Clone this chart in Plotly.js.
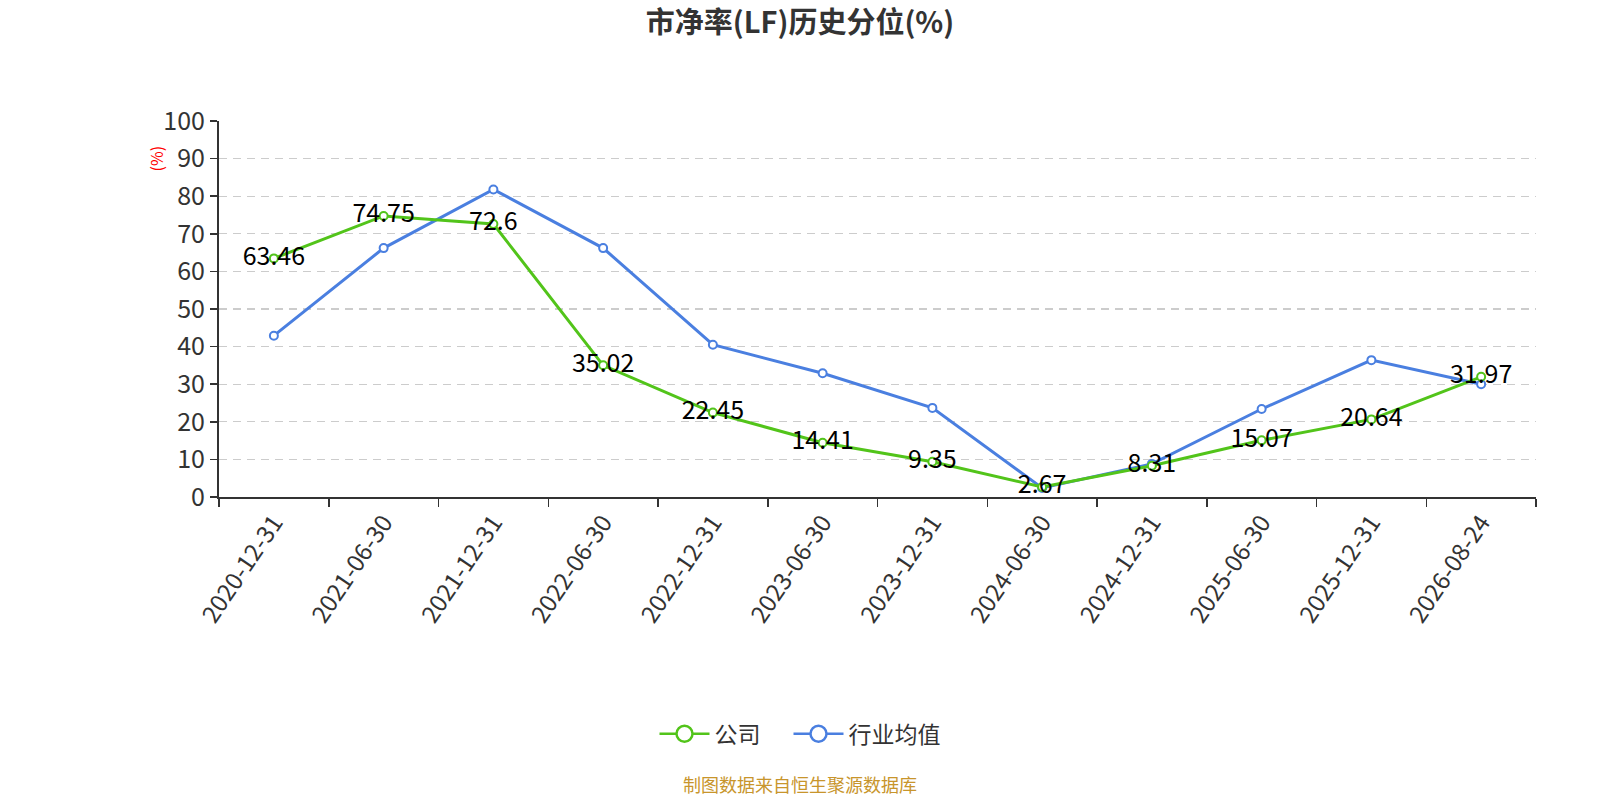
<!DOCTYPE html>
<html>
<head>
<meta charset="utf-8">
<script src="https://cdn.plot.ly/plotly-3.0.1.min.js"></script>
<style>
  html, body { margin: 0; padding: 0; background: #fff; }
  #plotElement { width: 1600px; height: 800px; }
</style>
</head>
<body>
<div id="plotElement"></div>
<script>
const categories = ["2020-12-31", "2021-06-30", "2021-12-31", "2022-06-30", "2022-12-31", "2023-06-30",
    "2023-12-31", "2024-06-30", "2024-12-31", "2025-06-30", "2025-12-31", "2026-08-24"];
const companyValues = [63.46, 74.75, 72.6, 35.02, 22.45, 14.41, 9.35, 2.67, 8.31, 15.07, 20.64, 31.97];
const industryValues = [42.9, 66.2, 81.8, 66.2, 40.5, 32.9, 23.7, 2.4, 8.8, 23.4, 36.4, 30.0];
const yTicks = [0, 10, 20, 30, 40, 50, 60, 70, 80, 90, 100];

const FONT = "'Noto Sans CJK SC', 'Noto Sans', sans-serif";
const GREEN = "#52c41a";
const BLUE = "#4a7fe0";

// page centre expressed in plot-area (paper) units
const centreX = (800 - 219) / 1317;

function lineTrace(name, values, color, withText) {
    const t = {
        type: "scatter",
        mode: withText ? "lines+markers+text" : "lines+markers",
        name: name,
        x: categories,
        y: values,
        showlegend: false,
        line: { color: color, width: 3 },
        marker: { color: "#fff", size: 8, line: { color: color, width: 2 } },
        cliponaxis: false,
        hoverinfo: "x+y"
    };
    if (withText) {
        t.text = values.map(v => String(v));
        t.textposition = "middle center";
        t.textfont = { family: FONT, size: 25, color: "#000" };
    }
    return t;
}

// legend-only entries with the big hollow circle icon
function legendTrace(name, color) {
    return {
        type: "scatter",
        mode: "lines+markers",
        name: name,
        x: [categories[0]],
        y: [null],
        showlegend: true,
        line: { color: color, width: 2.5 },
        marker: { color: "#fff", size: 16, line: { color: color, width: 2.5 } }
    };
}

// industry drawn first so company labels sit on top
const data = [
    lineTrace("行业均值", industryValues, BLUE, false),
    lineTrace("公司", companyValues, GREEN, true),
    legendTrace("公司\u3000", GREEN),
    legendTrace("行业均值", BLUE)
];

const layout = {
    width: 1600,
    height: 800,
    paper_bgcolor: "#fff",
    plot_bgcolor: "#fff",
    margin: { l: 219, r: 64, t: 121, b: 303, autoexpand: false },
    font: { family: FONT, color: "#333" },
    title: {
        text: "<b>市净率(LF)历史分位(%)</b>",
        font: { family: FONT, size: 29, color: "#333" },
        x: 0.5, xanchor: "center",
        y: 0.972, yanchor: "middle"
    },
    xaxis: {
        type: "category",
        range: [-0.5, 11.5],
        tickson: "boundaries",
        ticks: "outside",
        ticklen: 8,
        tickcolor: "#333",
        tickwidth: 1.5,
        tickangle: -56,
        tickfont: { family: FONT, size: 24, color: "#333" },
        showline: true,
        linecolor: "#333",
        linewidth: 2,
        showgrid: false,
        zeroline: false,
        automargin: false,
        fixedrange: true
    },
    yaxis: {
        range: [0, 100],
        tickvals: yTicks,
        ticks: "outside",
        ticklen: 7,
        tickcolor: "#333",
        tickwidth: 1.5,
        tickfont: { family: FONT, size: 25, color: "#333" },
        showline: true,
        linecolor: "#333",
        linewidth: 2,
        showgrid: true,
        gridcolor: "#cccccc",
        griddash: "8px,6px",
        gridwidth: 1.3,
        zeroline: false,
        automargin: false,
        fixedrange: true
    },
    showlegend: true,
    legend: {
        orientation: "h",
        x: centreX, xanchor: "center",
        y: -0.63, yanchor: "middle",
        font: { family: FONT, size: 23, color: "#333" },
        traceorder: "normal",
        itemwidth: 50
    },
    annotations: [
        {
            text: "(%)",
            xref: "paper", yref: "paper",
            x: -0.048, y: 0.9,
            xanchor: "center", yanchor: "middle",
            textangle: -90,
            showarrow: false,
            font: { family: FONT, size: 16, color: "#ff0000" }
        },
        {
            text: "制图数据来自恒生聚源数据库",
            xref: "paper", yref: "paper",
            x: centreX, y: -0.762,
            xanchor: "center", yanchor: "middle",
            showarrow: false,
            font: { family: FONT, size: 18, color: "#c8952c" }
        }
    ]
};

Plotly.newPlot("plotElement", data, layout, { displayModeBar: false, staticPlot: true });
</script>
</body>
</html>
